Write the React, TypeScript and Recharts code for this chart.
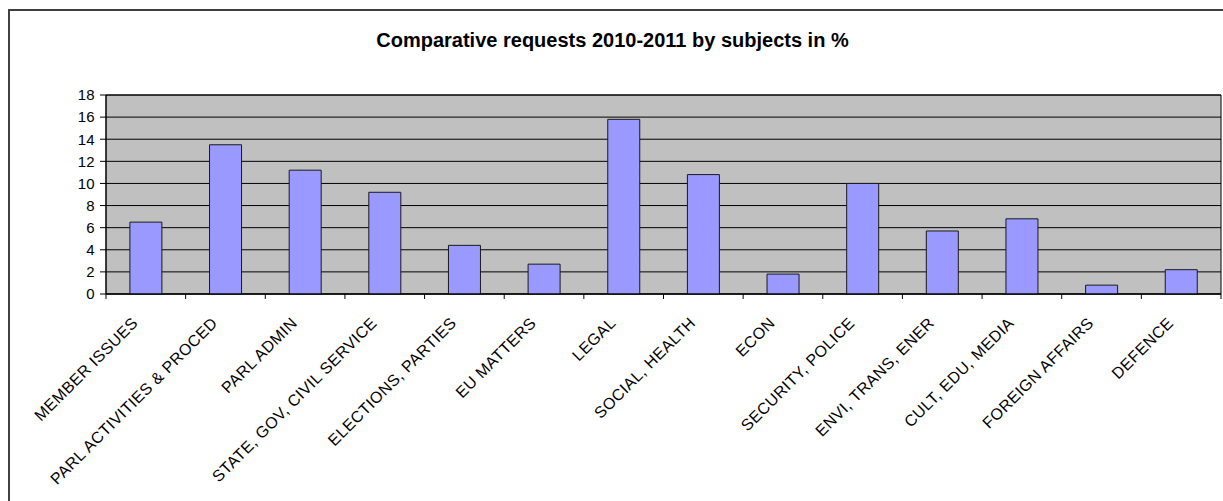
import React from 'react';
import { BarChart, Bar, XAxis, YAxis, CartesianGrid, ReferenceArea, ReferenceLine } from 'recharts';

const subjects = [
  'MEMBER ISSUES',
  'PARL ACTIVITIES & PROCED',
  'PARL ADMIN',
  'STATE, GOV, CIVIL SERVICE',
  'ELECTIONS, PARTIES',
  'EU MATTERS',
  'LEGAL',
  'SOCIAL, HEALTH',
  'ECON',
  'SECURITY, POLICE',
  'ENVI, TRANS, ENER',
  'CULT, EDU, MEDIA',
  'FOREIGN AFFAIRS',
  'DEFENCE',
];
const shares = [6.5, 13.5, 11.2, 9.2, 4.4, 2.7, 15.8, 10.8, 1.8, 10.0, 5.7, 6.8, 0.8, 2.2];
const yTicks = [0, 2, 4, 6, 8, 10, 12, 14, 16, 18];

const data = subjects.map((subject, i) => ({ subject, share: shares[i] }));

const FONT = '"Liberation Sans", Arial, sans-serif';
// tick marks between categories hang ~5px below the axis, in data units
const TICK_DEPTH = -0.45;

function SubjectTick({ x, y, payload }: any) {
  return (
    <g transform={`translate(${x - 15},${y})`}>
      <text
        transform="rotate(-45)"
        textAnchor="end"
        dy="0.71em"
        fontSize={16}
        letterSpacing={0.4}
        fill="#000"
        fontFamily={FONT}
      >
        {payload.value}
      </text>
    </g>
  );
}

export default function App() {
  return (
    <div style={{ position: 'absolute', left: 0, top: 0, width: 1223, height: 501, overflow: 'hidden', background: '#fff' }}>
      <div
        style={{
          position: 'absolute',
          left: 8,
          top: 9,
          width: 1300,
          height: 600,
          border: '2px solid #404040',
        }}
      />
      <div
        style={{
          position: 'absolute',
          left: 0,
          top: 29,
          width: 1225,
          textAlign: 'center',
          fontFamily: FONT,
          fontWeight: 'bold',
          fontSize: 20,
          color: '#000',
        }}
      >
        Comparative requests 2010-2011 by subjects in %
      </div>
      <div style={{ position: 'absolute', left: 0, top: 0 }}>
        <BarChart
          width={1223}
          height={501}
          data={data}
          margin={{ top: 95, right: 2, bottom: 0, left: 0 }}
          barCategoryGap="30%"
        >
          <CartesianGrid vertical={false} fill="#c0c0c0" stroke="#000" strokeOpacity={1} />
          <XAxis
            dataKey="subject"
            interval={0}
            height={207}
            tickLine={false}
            tickSize={0}
            tickMargin={22}
            axisLine={{ stroke: '#000' }}
            tick={<SubjectTick />}
          />
          <YAxis
            width={106}
            domain={[0, 18]}
            ticks={yTicks}
            interval={0}
            tickSize={6}
            tickMargin={5}
            axisLine={{ stroke: '#000' }}
            tickLine={{ stroke: '#000' }}
            tick={{ fill: '#000', fontSize: 15, fontFamily: FONT, letterSpacing: 0.3 }}
          />
          <ReferenceArea y1={0} y2={18} fill="none" stroke="#000" strokeWidth={1} ifOverflow="visible" />
          {subjects.map((s) => (
            <ReferenceLine
              key={s}
              segment={[{ x: s, y: 0 }, { x: s, y: TICK_DEPTH }]}
              position="start"
              stroke="#000"
              ifOverflow="visible"
            />
          ))}
          <ReferenceLine
            segment={[{ x: subjects[subjects.length - 1], y: 0 }, { x: subjects[subjects.length - 1], y: TICK_DEPTH }]}
            position="end"
            stroke="#000"
            ifOverflow="visible"
          />
          <Bar dataKey="share" fill="#9999ff" stroke="#1a1a1a" strokeWidth={1} isAnimationActive={false} />
        </BarChart>
      </div>
    </div>
  );
}
